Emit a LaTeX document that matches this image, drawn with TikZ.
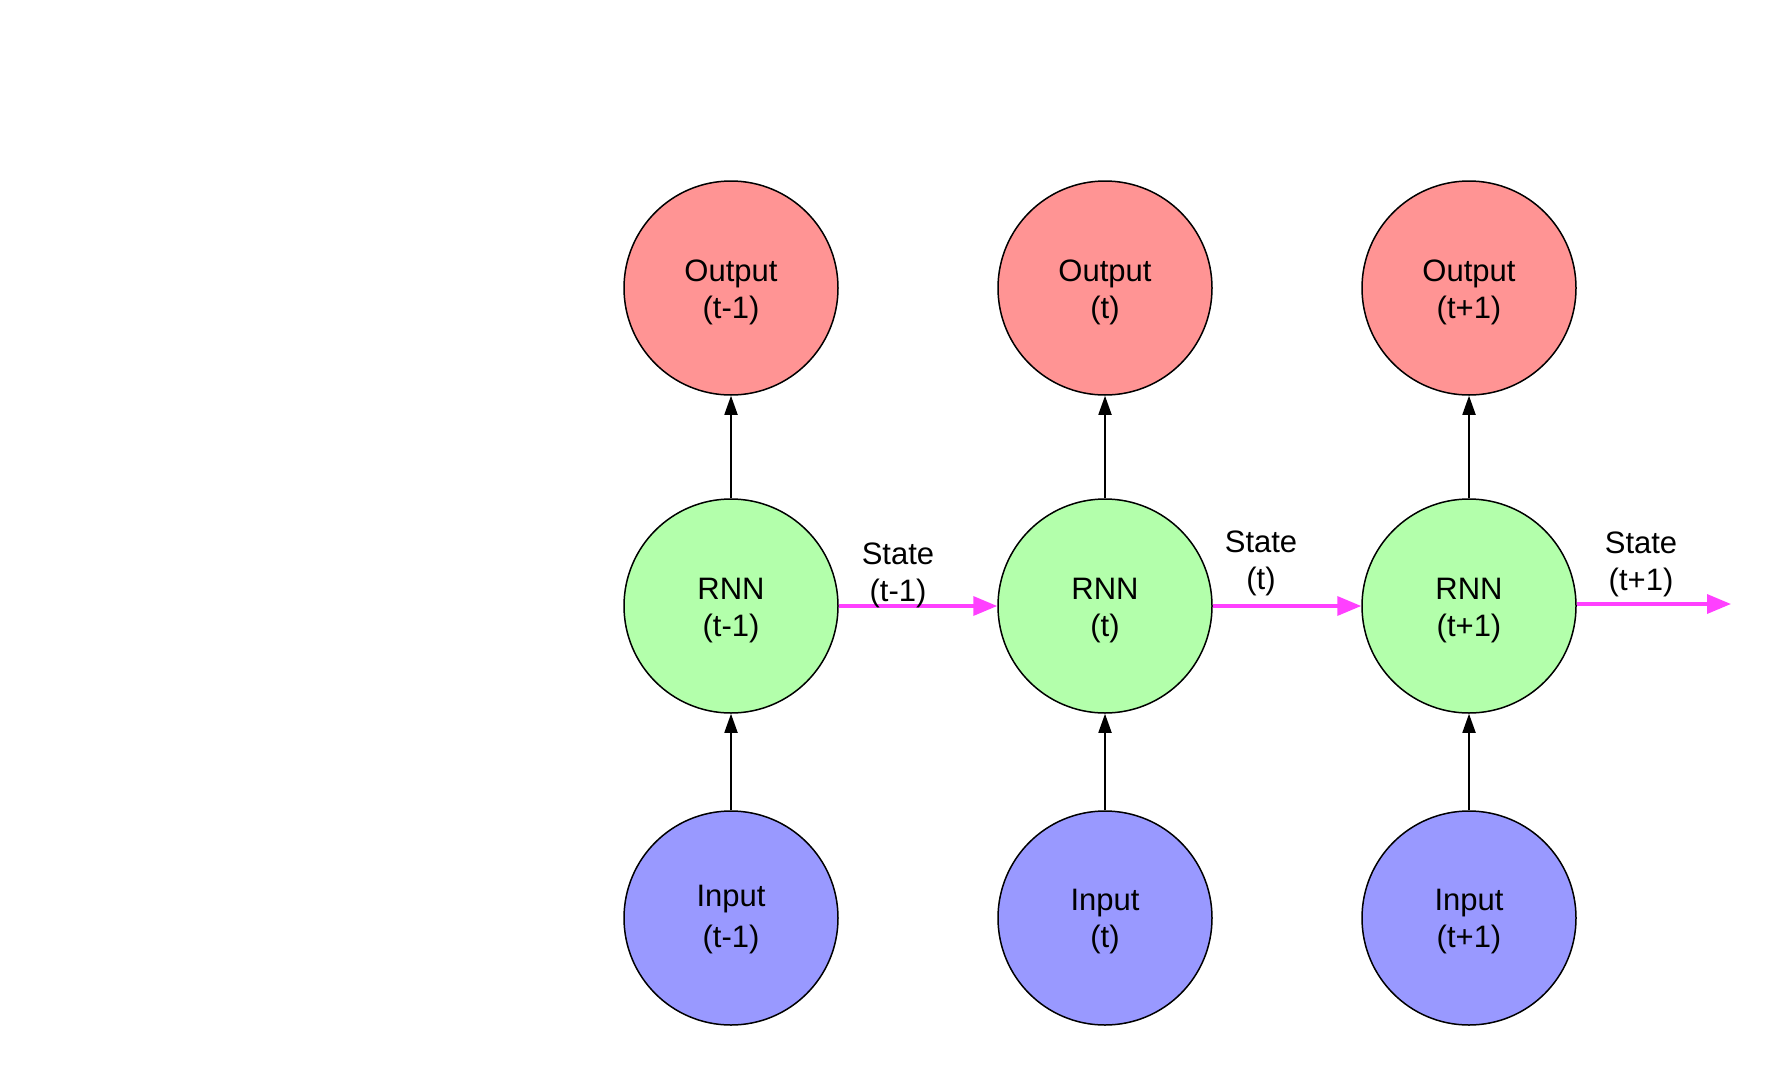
\documentclass[tikz,border=0pt]{standalone}
\usepackage{fontspec}
\setmainfont{Liberation Sans}
\usetikzlibrary{arrows.meta}
\definecolor{outred}{HTML}{FF9494}
\definecolor{rnngreen}{HTML}{B3FFAB}
\definecolor{inblue}{HTML}{9999FF}
\definecolor{statemag}{HTML}{FF40FF}
\newcommand{\twolines}[4][0pt]{\raisebox{#2}[\height][\depth]{\begin{tabular}{@{}c@{}}#3\\[#1]#4\end{tabular}}}
\begin{document}
\begin{tikzpicture}[x=1pt,y=-1pt,
  unit/.style={circle,draw=black,line width=1.5pt,minimum size=214pt,inner sep=0pt,align=center,
    font=\fontsize{31}{37}\selectfont},
  outunit/.style={unit,fill=outred},
  rnnunit/.style={unit,fill=rnngreen},
  inunit/.style={unit,fill=inblue},
  flow/.style={line width=1.8pt,draw=black,-{Triangle[length=19pt,width=13pt]}},
  stateflow/.style={line width=3.5pt,draw=statemag,-{Triangle[length=24pt,width=19pt]}},
  statelbl/.style={align=center,inner sep=0pt,font=\fontsize{31}{37}\selectfont}]
\useasboundingbox (0,0) rectangle (1790,1084);
\node[outunit] (o1) at (731,288) {\twolines{-5pt}{Output}{(t-1)}};
\node[outunit] (o2) at (1105,288) {\twolines{-5pt}{Output}{(t)}};
\node[outunit] (o3) at (1469,288) {\twolines{-5pt}{Output}{(t+1)}};
\node[rnnunit] (r1) at (731,606) {\twolines{-5pt}{RNN}{(t-1)}};
\node[rnnunit] (r2) at (1105,606) {\twolines{-5pt}{RNN}{(t)}};
\node[rnnunit] (r3) at (1469,606) {\twolines{-5pt}{RNN}{(t+1)}};
\node[inunit] (i1) at (731,918) {\twolines[4pt]{-2pt}{Input}{(t-1)}};
\node[inunit] (i2) at (1105,918) {\twolines{-4pt}{Input}{(t)}};
\node[inunit] (i3) at (1469,918) {\twolines{-4pt}{Input}{(t+1)}};
\coordinate (send) at (1731,604);
\foreach \k in {1,2,3}{
  \draw[flow] (i\k) -- (r\k);
  \draw[flow] (r\k) -- (o\k);
}
\draw[stateflow] (r1) -- (r2);
\draw[stateflow] (r2) -- (r3);
\draw[stateflow] (r3.east |- send) -- (send);
\node[statelbl] (s1) at (898,575) {State\\(t-1)};
\node[statelbl] (s2) at (1261,563) {State\\(t)};
\node[statelbl] (s3) at (1641,564) {State\\(t+1)};
\end{tikzpicture}
\end{document}
